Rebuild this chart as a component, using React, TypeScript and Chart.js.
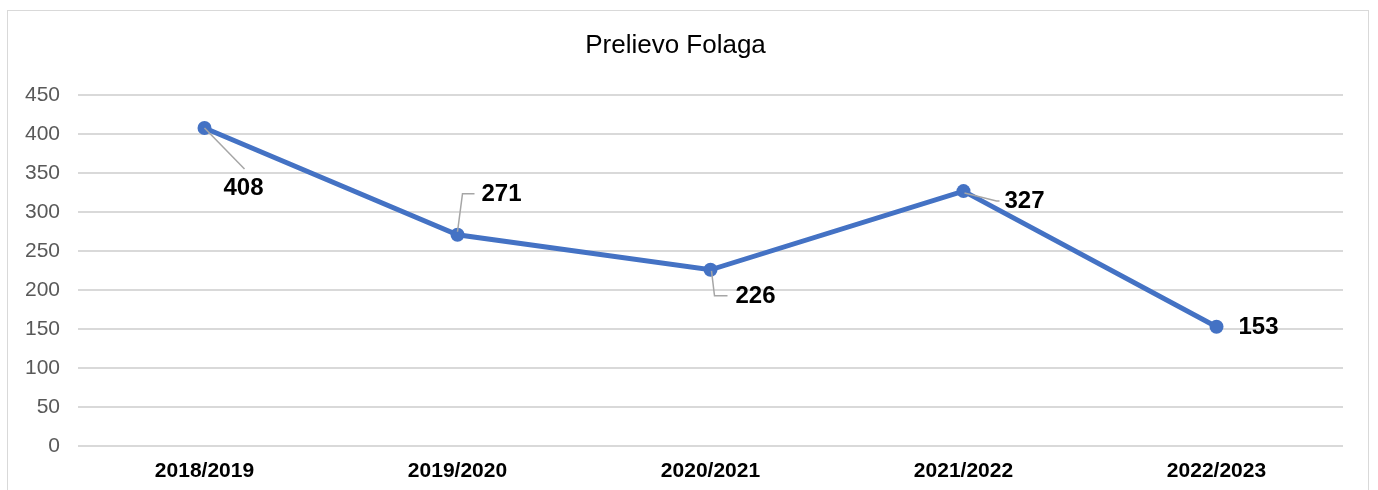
import React, { useEffect, useRef } from "react";
import { Chart, registerables } from "chart.js";

Chart.register(...registerables);

const categories = ["2018/2019", "2019/2020", "2020/2021", "2021/2022", "2022/2023"];
const values = [408, 271, 226, 327, 153];
const yTicks = [0, 50, 100, 150, 200, 250, 300, 350, 400, 450];
const chartTitle = "Prelievo Folaga";

// label placement relative to each point (pixels) and leader-line paths
const labelLayout = [
  { dx: 39, dy: 60, leader: [[0, 0], [40, 41]] },
  { dx: 44, dy: -40, leader: [[0, -3], [5, -41], [17, -41]] },
  { dx: 45, dy: 27, leader: [[1, 1], [4, 26], [17, 26]] },
  { dx: 61, dy: 10, leader: [[1, 2], [33, 10], [36, 10]] },
  { dx: 42, dy: 1, leader: null as null | number[][] },
];

const FONT = "'Liberation Sans', Arial, sans-serif";

const labelPlugin = {
  id: "pointLabels",
  afterDatasetsDraw(chart: any) {
    const ctx = chart.ctx;
    const meta = chart.getDatasetMeta(0);
    ctx.save();
    meta.data.forEach((pt: any, i: number) => {
      const lay = labelLayout[i];
      if (lay.leader) {
        ctx.beginPath();
        ctx.strokeStyle = "#a6a6a6";
        ctx.lineWidth = 1.5;
        lay.leader.forEach((p, j) => {
          const x = pt.x + p[0];
          const y = pt.y + p[1];
          if (j === 0) ctx.moveTo(x, y);
          else ctx.lineTo(x, y);
        });
        ctx.stroke();
      }
      ctx.fillStyle = "#000000";
      ctx.font = `bold 24px ${FONT}`;
      ctx.textAlign = "center";
      ctx.textBaseline = "middle";
      ctx.fillText(String(values[i]), pt.x + lay.dx, pt.y + lay.dy);
    });
    ctx.restore();
  },
};

export default function App() {
  const ref = useRef<HTMLCanvasElement | null>(null);
  useEffect(() => {
    if (!ref.current) return;
    const chart = new Chart(ref.current, {
      type: "line",
      data: {
        labels: categories,
        datasets: [
          {
            data: values,
            borderColor: "#4472C4",
            backgroundColor: "#4472C4",
            borderWidth: 5,
            pointRadius: 7,
            pointHoverRadius: 7,
            pointBackgroundColor: "#4472C4",
            pointBorderColor: "#4472C4",
            pointBorderWidth: 0,
            tension: 0,
          },
        ],
      },
      options: {
        animation: false,
        responsive: false,
        maintainAspectRatio: false,
        layout: { padding: { left: 0, right: 25, top: 0, bottom: 0 } },
        plugins: {
          legend: { display: false },
          tooltip: { enabled: false },
          title: {
            display: true,
            text: chartTitle,
            color: "#000000",
            font: { family: FONT, size: 26, weight: "normal" },
            padding: { top: 19, bottom: 34 },
          },
        },
        scales: {
          x: {
            offset: true,
            grid: { display: false, drawTicks: false },
            border: { display: false },
            ticks: {
              color: "#000000",
              font: { family: FONT, size: 21, weight: "bold" },
              padding: 13,
              maxRotation: 0,
            },
            afterFit(scale: any) {
              scale.height = 44;
            },
          },
          y: {
            min: 0,
            max: 450,
            afterBuildTicks(scale: any) {
              scale.ticks = yTicks.map((v) => ({ value: v }));
            },
            grid: { color: "#d9d9d9", lineWidth: 2, drawTicks: false },
            border: { display: false },
            ticks: {
              color: "#595959",
              font: { family: FONT, size: 21 },
              padding: 18,
            },
            afterFit(scale: any) {
              scale.width = 70;
            },
          },
        },
      },
      plugins: [labelPlugin],
    } as any);
    return () => chart.destroy();
  }, []);

  return (
    <div
      style={{
        position: "absolute",
        left: 7,
        top: 10,
        width: 1360,
        height: 479,
        border: "1px solid #d9d9d9",
        background: "#ffffff",
      }}
    >
      <canvas ref={ref} width={1360} height={479} style={{ display: "block" }} />
    </div>
  );
}
